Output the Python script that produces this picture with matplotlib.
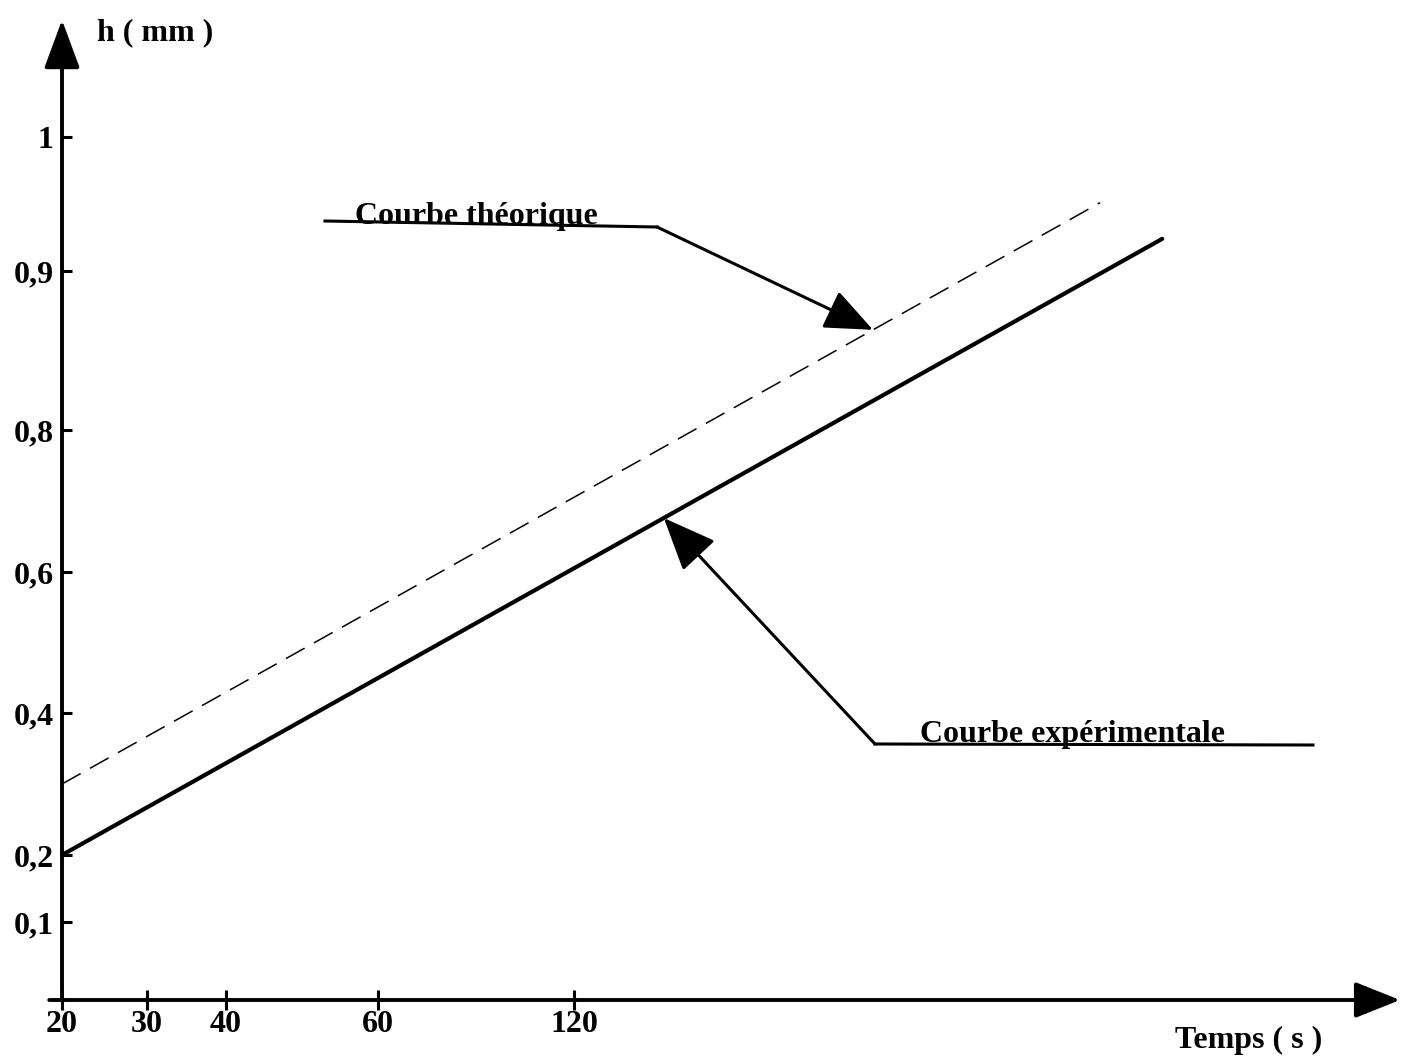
import numpy as np
import matplotlib.pyplot as plt

W, H = 1403, 1058

# measured curves: time (s) vs thickness h (mm)
temps_exp = [20, 300]
h_exp = [0.20, 0.924]
temps_theo = [20, 281]
h_theo = [0.30, 0.951]

# points the two call-outs point at
tip_theo = (211.5, 0.863)
tip_exp = (147.5, 0.676)

# graduations of the hand-drawn axes
t_ticks = [20, 30, 40, 60, 120]
t_labels = ["20", "30", "40", "60", "120"]
h_ticks = [0.1, 0.2, 0.4, 0.6, 0.8, 0.9, 1.0]
h_labels = ["0,1", "0,2", "0,4", "0,6", "0,8", "0,9", "1"]

# where each graduation sits on the sheet (pixels), spacing is not regular
t_anchor = [0, 20, 30, 40, 60, 120, 400]
t_pix = [-108, 62, 147, 226, 378, 574, 1489]
h_anchor = [-0.2, 0, 0.1, 0.2, 0.4, 0.6, 0.8, 0.9, 1.0, 1.2]
h_pix = [1156, 1000, 922, 855, 713, 572, 430, 271, 137, -133]

t_anchor = np.array(t_anchor, float)
t_pix = np.array(t_pix, float)
h_anchor = np.array(h_anchor, float)
h_neg = -np.array(h_pix, float)


def t_fwd(v):
    return np.interp(v, t_anchor, t_pix)

def t_inv(p):
    return np.interp(p, t_pix, t_anchor)

def h_fwd(v):
    return np.interp(v, h_anchor, h_neg)

def h_inv(p):
    return np.interp(p, h_neg, h_anchor)


def px(x, y):
    # sheet pixel -> figure fraction
    return (x / W, 1 - y / H)


plt.rcParams["font.family"] = "Liberation Serif"
plt.rcParams["font.weight"] = "bold"
plt.rcParams["font.size"] = 23

fig = plt.figure(figsize=(W / 100, H / 100), dpi=100)
ax = fig.add_axes([0, 0, 1, 1])
ax.set_xscale("function", functions=(t_fwd, t_inv))
ax.set_yscale("function", functions=(h_fwd, h_inv))
ax.set_xlim(t_inv(0), t_inv(W))
ax.set_ylim(h_inv(-H), h_inv(0))
ax.patch.set_visible(False)

for s in ax.spines.values():
    s.set_visible(False)
ax.spines["left"].set_position(("data", 20))
ax.spines["bottom"].set_position(("data", 0))

ax.set_xticks(t_ticks, labels=t_labels)
ax.set_yticks(h_ticks, labels=h_labels)
ax.minorticks_off()
ax.tick_params(axis="x", direction="inout", length=15, width=2.2, pad=0, color="black")
ax.tick_params(axis="y", direction="in", length=7, width=2.2, pad=6, color="black")

# axes drawn as arrows
ax.annotate("", xy=(20, 1 - 20 / H), xycoords=("data", "axes fraction"),
            xytext=(20, 0), textcoords="data",
            arrowprops=dict(arrowstyle="-|>,head_length=1.0,head_width=0.37",
                            mutation_scale=30, lw=2.8, color="black",
                            shrinkA=0, shrinkB=0))
ax.annotate("", xy=(1400 / W, 0), xycoords=("axes fraction", "data"),
            xytext=(18.5, 0), textcoords="data",
            arrowprops=dict(arrowstyle="-|>,head_length=1.0,head_width=0.4",
                            mutation_scale=28, lw=2.8, color="black",
                            shrinkA=0, shrinkB=0))

ax.plot(temps_exp, h_exp, color="black", lw=3, solid_capstyle="round")
ax.plot(temps_theo, h_theo, color="black", lw=1.1, linestyle=(0, (14, 7)))

# call-outs
ax.plot(*zip(px(325, 221), px(657, 227)), transform=fig.transFigure, color="black", lw=2.2)
ax.annotate("", xy=tip_theo, xycoords="data", xytext=px(657, 227), textcoords="figure fraction",
            arrowprops=dict(arrowstyle="-|>,head_length=1.0,head_width=0.42",
                            mutation_scale=30, lw=2.2, color="black",
                            shrinkA=0, shrinkB=0))
fig.text(*px(355, 224), "Courbe théorique", ha="left", va="baseline")

ax.plot(*zip(px(875, 744), px(1313, 745)), transform=fig.transFigure, color="black", lw=2.2)
ax.annotate("", xy=tip_exp, xycoords="data", xytext=px(875, 744), textcoords="figure fraction",
            arrowprops=dict(arrowstyle="-|>,head_length=1.0,head_width=0.42",
                            mutation_scale=33, lw=2.2, color="black",
                            shrinkA=0, shrinkB=0))
fig.text(*px(920, 742), "Courbe expérimentale", ha="left", va="baseline")

fig.text(*px(97, 33), "h ( mm )", ha="left", va="center")
fig.text(*px(1175, 1040), "Temps ( s )", ha="left", va="center")

fig.savefig("out.png", dpi=100)
